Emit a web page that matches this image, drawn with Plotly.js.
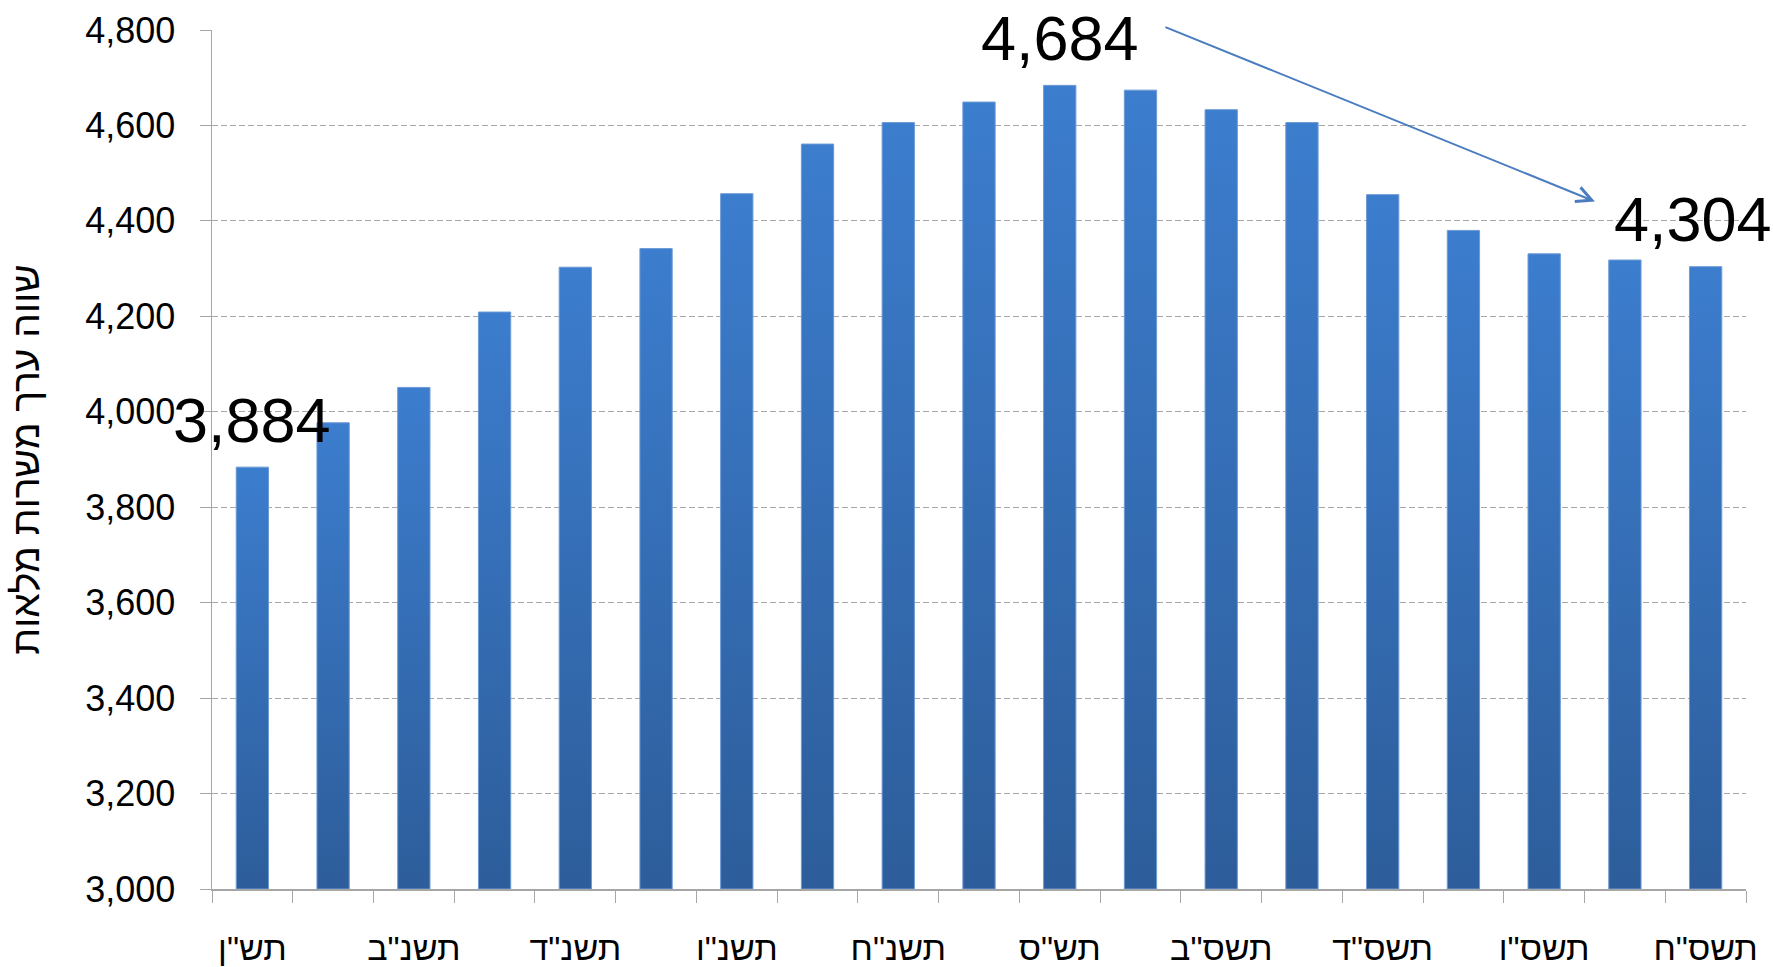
<!DOCTYPE html>
<html>
<head>
<meta charset="utf-8">
<script src="https://cdn.plot.ly/plotly-3.0.1.min.js"></script>
<style>html,body{margin:0;padding:0;background:#fff;}#chart{width:1773px;height:967px;}</style>
</head>
<body>
<div id="chart"></div>
<script>
const categories = ['תש"ן','תשנ"א','תשנ"ב','תשנ"ג','תשנ"ד','תשנ"ה','תשנ"ו','תשנ"ז','תשנ"ח','תשנ"ט','תש"ס','תשס"א','תשס"ב','תשס"ג','תשס"ד','תשס"ה','תשס"ו','תשס"ז','תשס"ח'];
const values = [3884, 3977, 4051, 4209, 4303, 4342, 4457, 4561, 4606, 4649, 4684, 4674, 4633, 4606, 4455, 4380, 4331, 4318, 4304];
const yTitle = 'שווה ערך משרות מלאות';
const yTickVals = [3000, 3200, 3400, 3600, 3800, 4000, 4200, 4400, 4600, 4800];

const fmt = v => v.toLocaleString('en-US');
const iMax = values.indexOf(Math.max(...values));
const iLast = values.length - 1;
const tickText = categories.map((c, i) => (i % 2 === 0 ? c : ''));
const axisMin = yTickVals[0];

const FONT = 'Liberation Sans, Arial, sans-serif';
const GRAY = '#A6A6A6';

// bars start at the axis floor so each bar's gradient spans its visible height
const trace = {
  type: 'bar',
  x: categories,
  base: axisMin,
  y: values.map(v => v - axisMin),
  marker: {color: '#3570B9', line: {color: '#6D9BD6', width: 1}},
  hoverinfo: 'skip'
};

const labelFont = {family: FONT, size: 63, color: '#000'};
const annotations = [
  {x: categories[0], y: values[0], xref: 'x', yref: 'y', text: fmt(values[0]), showarrow: false, font: labelFont, yanchor: 'middle', yshift: 47},
  {x: categories[iMax], y: values[iMax], xref: 'x', yref: 'y', text: fmt(values[iMax]), showarrow: false, font: labelFont, yanchor: 'middle', yshift: 47},
  {x: categories[iLast], y: values[iLast], xref: 'x', yref: 'y', text: fmt(values[iLast]), showarrow: false, font: labelFont, yanchor: 'middle', yshift: 48, xshift: -13},
  {x: 0.9015, y: 0.8004, xref: 'paper', yref: 'paper', text: '', showarrow: true,
   ax: -431, ay: -175, arrowhead: 5, arrowsize: 1.5, arrowwidth: 2, arrowcolor: '#4A7CC0', standoff: 0}
];

const layout = {
  width: 1773, height: 967,
  margin: {l: 212, r: 27, t: 30, b: 78, pad: 0},
  paper_bgcolor: '#fff', plot_bgcolor: '#fff',
  showlegend: false,
  bargap: 0.6,
  font: {family: FONT, color: '#000'},
  xaxis: {
    type: 'category',
    range: [-0.5, categories.length - 0.5],
    tickmode: 'array', tickvals: categories, ticktext: tickText,
    tickson: 'boundaries', ticks: 'outside', ticklen: 12, tickcolor: GRAY, tickwidth: 1,
    tickangle: 0,
    showline: true, linecolor: GRAY, linewidth: 1.5,
    showgrid: false, zeroline: false,
    tickfont: {family: FONT, size: 34, color: '#000'},
    ticklabelstandoff: 29,
    automargin: false
  },
  yaxis: {
    range: [3000, 4800],
    tickmode: 'array', tickvals: yTickVals, ticktext: yTickVals.map(fmt),
    ticks: 'outside', ticklen: 11, tickcolor: GRAY, tickwidth: 1,
    showline: true, linecolor: GRAY, linewidth: 1.5,
    showgrid: true, gridcolor: '#A8A8A8', gridwidth: 1, griddash: '6px,3px',
    zeroline: false,
    tickfont: {family: FONT, size: 36, color: '#000'},
    ticklabelstandoff: 17,
    title: {text: yTitle, font: {family: FONT, size: 39, color: '#000'}, standoff: 33},
    automargin: false
  },
  annotations: annotations
};

Plotly.newPlot('chart', [trace], layout, {displayModeBar: false, staticPlot: true}).then(gd => {
  const NS = 'http://www.w3.org/2000/svg';
  const svg = gd.querySelector('svg.main-svg');
  let defs = svg.querySelector('defs');
  if (!defs) { defs = document.createElementNS(NS, 'defs'); svg.insertBefore(defs, svg.firstChild); }
  const grad = document.createElementNS(NS, 'linearGradient');
  grad.setAttribute('id', 'barGrad');
  grad.setAttribute('x1', '0'); grad.setAttribute('y1', '0');
  grad.setAttribute('x2', '0'); grad.setAttribute('y2', '1');
  [['0', '#3C7DCE'], ['1', '#2D5D9A']].forEach(([o, c]) => {
    const s = document.createElementNS(NS, 'stop');
    s.setAttribute('offset', o); s.setAttribute('stop-color', c);
    grad.appendChild(s);
  });
  defs.appendChild(grad);
  gd.querySelectorAll('g.trace.bars path').forEach(p => { p.style.fill = 'url(#barGrad)'; });
});
</script>
</body>
</html>
